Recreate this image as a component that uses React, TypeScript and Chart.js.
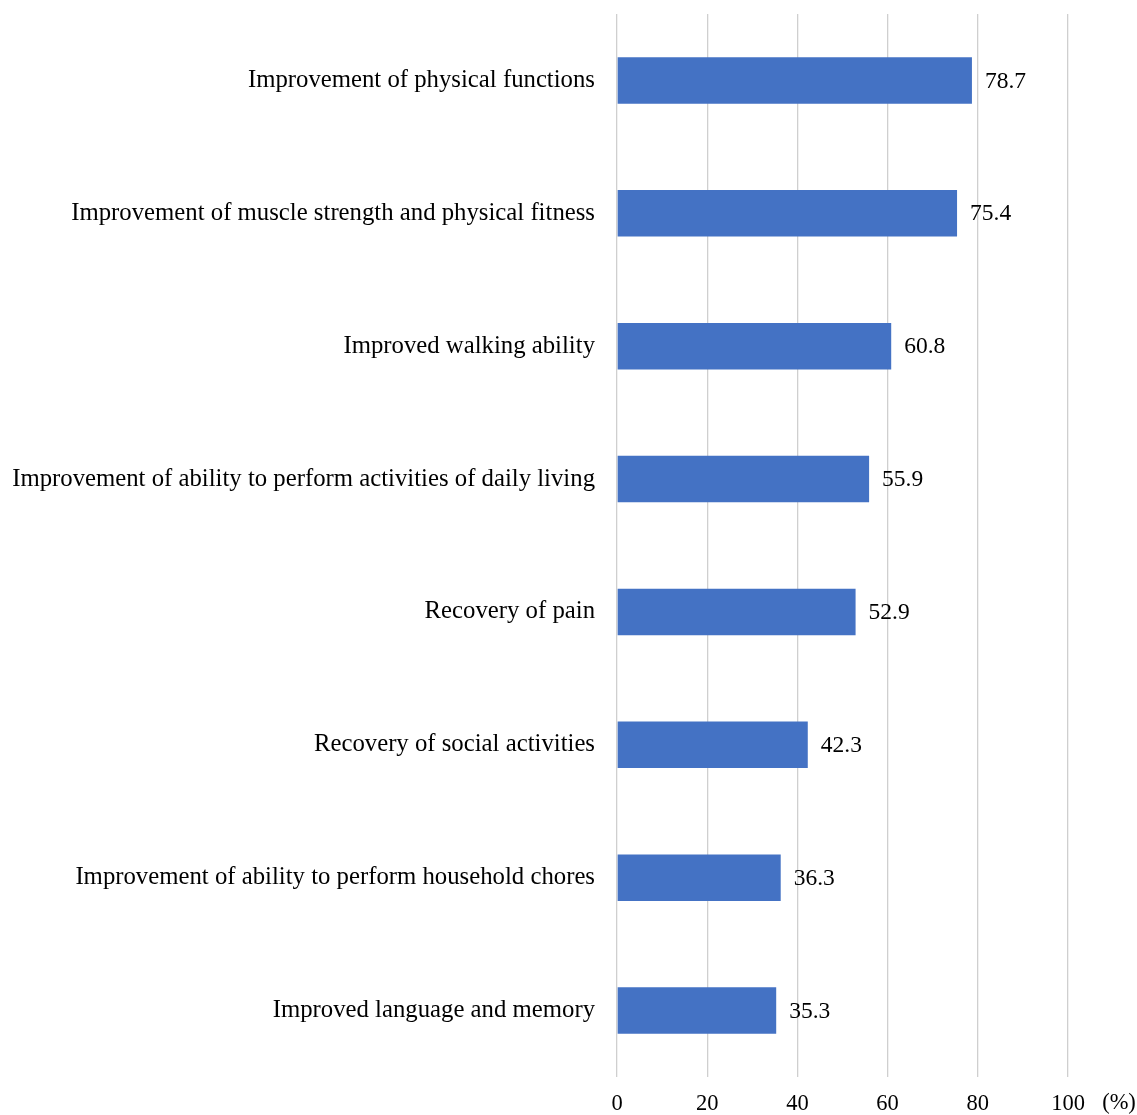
import React, { useEffect, useRef } from "react";
import { Chart, registerables } from "chart.js";

Chart.register(...registerables);

const categories = [
  "Improvement of physical functions",
  "Improvement of muscle strength and physical fitness",
  "Improved walking ability",
  "Improvement of ability to perform activities of daily living",
  "Recovery of pain",
  "Recovery of social activities",
  "Improvement of ability to perform household chores",
  "Improved language and memory",
];
const values = [78.7, 75.4, 60.8, 55.9, 52.9, 42.3, 36.3, 35.3];
const xTicks = [0, 20, 40, 60, 80, 100];
const unitLabel = "(%)";

const FONT = "'Liberation Serif', 'Times New Roman', serif";

const valueLabels = {
  id: "valueLabels",
  afterDatasetsDraw(chart: any) {
    const ctx = chart.ctx;
    const meta = chart.getDatasetMeta(0);
    ctx.save();
    ctx.font = `23.5px ${FONT}`;
    ctx.fillStyle = "#000";
    ctx.textAlign = "left";
    ctx.textBaseline = "middle";
    meta.data.forEach((bar: any, i: number) => {
      ctx.fillText(values[i].toFixed(1), bar.x + 13, bar.y + 1);
    });
    const xs = chart.scales.x;
    ctx.font = `22.5px ${FONT}`;
    ctx.textAlign = "center";
    ctx.fillText(unitLabel, xs.getPixelForValue(100) + 51, chart.chartArea.bottom + 26);
    ctx.restore();
  },
};

export default function App() {
  const ref = useRef<HTMLCanvasElement | null>(null);
  useEffect(() => {
    if (!ref.current) return;
    const chart = new Chart(ref.current, {
      type: "bar",
      data: {
        labels: categories,
        datasets: [
          {
            data: values,
            backgroundColor: "#4472C4",
            barPercentage: 0.35,
            categoryPercentage: 1,
          },
        ],
      },
      options: {
        indexAxis: "y",
        animation: false,
        responsive: false,
        maintainAspectRatio: false,
        layout: { padding: { top: 14, right: 69, left: 0, bottom: 0 } },
        plugins: {
          legend: { display: false },
          tooltip: { enabled: false },
        },
        scales: {
          x: {
            min: 0,
            max: 100,
            afterBuildTicks(scale: any) {
              scale.ticks = xTicks.map((v) => ({ value: v }));
            },
            afterFit(scale: any) {
              scale.height = 38;
            },
            grid: { color: "#cfcfcf", lineWidth: 1.3, drawTicks: false },
            border: { display: false },
            ticks: {
              padding: 14,
              color: "#000",
              font: { family: FONT, size: 22.5 },
            },
          },
          y: {
            afterFit(scale: any) {
              scale.width = 617;
              scale.paddingTop = 0;
              scale.paddingBottom = 0;
            },
            grid: { display: false, drawTicks: false },
            border: { display: false },
            ticks: {
              padding: 22,
              color: "#000",
              font: { family: FONT, size: 24.75 },
            },
          },
        },
      },
      plugins: [valueLabels],
    });
    return () => chart.destroy();
  }, []);
  return (
    <div style={{ position: "absolute", left: 0, top: 0, width: 1137, height: 1115, background: "#fff" }}>
      <canvas ref={ref} width={1137} height={1115} style={{ display: "block" }} />
    </div>
  );
}
